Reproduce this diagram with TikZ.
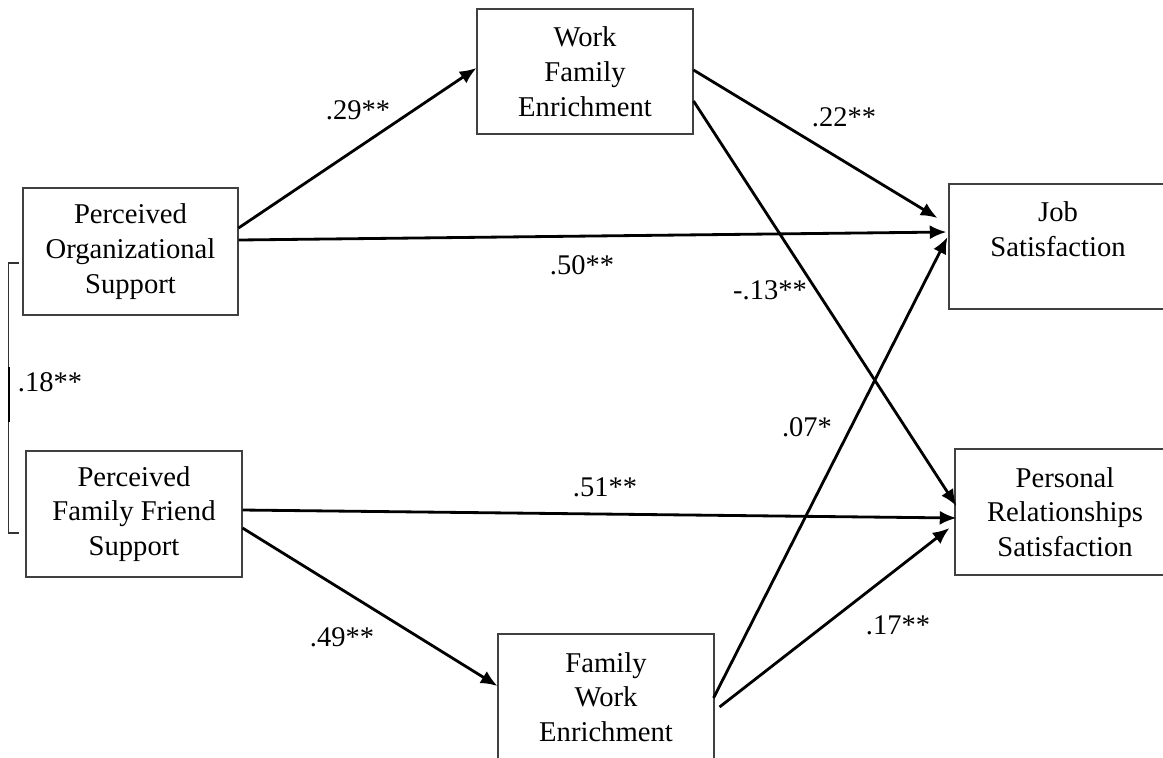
\documentclass[tikz,border=0pt]{standalone}
\usepackage{fontspec}
\setmainfont{Liberation Serif}
\usepackage{tikz}
\usetikzlibrary{positioning,arrows.meta}
\tikzstyle{var}=[draw=black!75, line width=0.6pt, minimum height=2.52cm, minimum width=4.32cm, align=center, inner sep=0pt, font=\fontsize{16.3}{19.8}\selectfont]
\tikzstyle{lbl}=[inner sep=0pt, font=\fontsize{16.2}{19}\selectfont]
\tikzstyle{path}=[->, line width=1.6pt]

\begin{document}
\begin{tikzpicture}[>={Latex[length=9.5pt,width=8pt]}]
\useasboundingbox (0,0) rectangle (23.26,-15.14);

\node[var, minimum width=4.3cm, minimum height=2.54cm] at (2.61,-5.03) (pos) {Perceived\\Organizational\\Support};
\node[var] at (2.68,-10.28) (pffs) {Perceived\\Family Friend\\Support};
\node[var, minimum height=2.5cm] at (11.70,-1.43) (wfe) {Work\\Family\\Enrichment};
\node[var] at (12.12,-13.94) (fwe) {Family\\Work\\Enrichment};
\node[var, minimum width=4.36cm, minimum height=2.5cm] at (21.16,-4.93) (js) {Job\\Satisfaction\\~};
\node[var, minimum width=4.4cm] at (21.30,-10.24) (prs) {Personal\\Relationships\\Satisfaction};

% correlation between the two supports
\draw[black!80, line width=0.6pt] ([xshift=-0.06cm,yshift=-0.23cm]pos.west) -- ++(-0.22,0) |- ([xshift=-0.12cm,yshift=-0.38cm]pffs.west);
\draw[line width=1.6pt] (0.18,-7.34) -- (0.18,-8.44);
\node[lbl] at (1.00,-7.64) (r18) {.18**};

\draw[path] ([yshift=0.47cm]pos.east) -- ([yshift=0.07cm]wfe.west);
\draw[path] ([yshift=0.23cm]pos.east) -- ([xshift=-0.04cm,yshift=0.29cm]js.west);
\draw[path] ([yshift=0.03cm]wfe.east) -- ([xshift=-0.22cm,yshift=0.57cm]js.west);
\draw[path] ([yshift=-0.59cm]wfe.east) -- ([xshift=0.04cm,yshift=0.12cm]prs.west);
\draw[path] ([xshift=-0.02cm,yshift=-0.02cm]fwe.east) -- ([xshift=-0.02cm,yshift=0.19cm]js.west);
\draw[path] ([xshift=0.1cm,yshift=-0.2cm]fwe.east) -- ([xshift=-0.1cm,yshift=-0.32cm]prs.west);
\draw[path] ([yshift=0.08cm]pffs.east) -- ([xshift=0.04cm,yshift=-0.12cm]prs.west);
\draw[path] ([yshift=-0.28cm]pffs.east) -- ([yshift=0.22cm]fwe.west);

\node[lbl] at (7.16,-2.20) (b29) {.29**};
\node[lbl] at (11.64,-5.30) (b50) {.50**};
\node[lbl] at (15.40,-5.80) (b13) {-.13**};
\node[lbl] at (16.88,-2.34) (b22) {.22**};
\node[lbl] at (16.14,-8.54) (b07) {.07*};
\node[lbl] at (12.10,-9.74) (b51) {.51**};
\node[lbl] at (6.84,-12.74) (b49) {.49**};
\node[lbl] at (17.96,-12.50) (b17) {.17**};
\end{tikzpicture}
\end{document}
